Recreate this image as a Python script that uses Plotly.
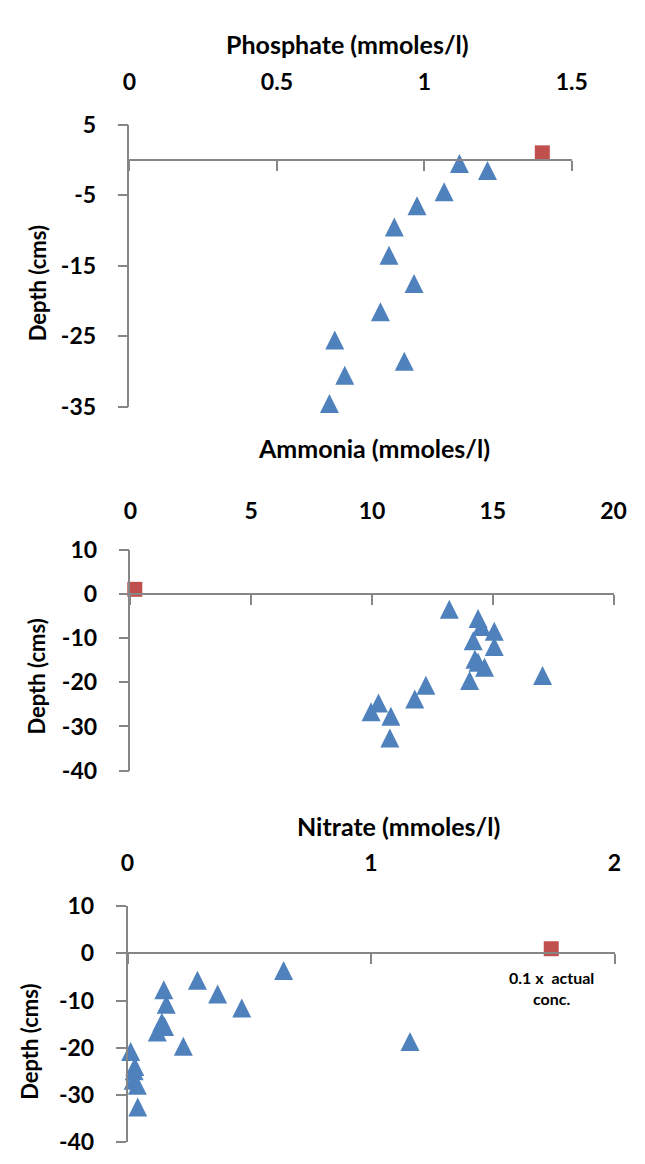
import plotly.graph_objects as go

W, H = 645, 1164

# ---------------- data ----------------
phos_conc = [1.119, 1.214, 1.067, 0.975, 0.898, 0.880, 0.965, 0.851, 0.696, 0.932, 0.730, 0.678]
phos_depth = [-0.5, -1.5, -4.5, -6.5, -9.5, -13.5, -17.5, -21.5, -25.5, -28.5, -30.5, -34.5]
phos_surface_conc = [1.40]
phos_surface_depth = [1.0]

amm_conc = [13.2, 14.39, 14.53, 15.06, 14.19, 15.06, 14.26, 14.39, 14.66, 17.06, 14.04, 12.23,
            11.77, 10.27, 9.96, 10.78, 10.74]
amm_depth = [-3.5, -5.6, -7.4, -8.5, -10.6, -11.9, -14.8, -15.5, -16.6, -18.5, -19.6, -20.7,
             -23.8, -24.7, -26.7, -27.7, -32.6]
amm_surface_conc = [0.18]
amm_surface_depth = [1.0]

nit_conc = [0.641, 0.287, 0.149, 0.370, 0.159, 0.469, 0.141, 0.152, 0.122, 1.160, 0.229, 0.013,
            0.030, 0.027, 0.023, 0.040, 0.042]
nit_depth = [-3.6, -5.7, -7.7, -8.6, -10.8, -11.6, -14.6, -15.5, -16.7, -18.7, -19.7, -20.8,
             -24.0, -24.9, -26.9, -28.0, -32.6]
nit_surface_conc = [1.74]
nit_surface_depth = [1.0]

# tick values / labels
phos_xticks = [0, 0.5, 1, 1.5]
phos_xlabels = ["0", "0.5", "1", "1.5"]
amm_xticks = [0, 5, 10, 15, 20]
amm_xlabels = ["0", "5", "10", "15", "20"]
nit_xticks = [0, 1, 2]
nit_xlabels = ["0", "1", "2"]
phos_yticks = [5, -5, -15, -25, -35]
phos_ylabels = ["5", "-5", "-15", "-25", "-35"]
deep_yticks = [10, 0, -10, -20, -30, -40]
deep_ylabels = ["10", "0", "-10", "-20", "-30", "-40"]

x_titles = ["Phosphate (mmoles/l)", "Ammonia (mmoles/l)", "Nitrate (mmoles/l)"]
y_title = "Depth (cms)"
note_text = "0.1 x  actual<br>conc."

# ---------------- styling ----------------
BLUE = "#4F81BD"
RED = "#C0504D"
GRAY = "#868686"
FONT = "Lato"

# panel geometry in pixels (left, right, top, bottom) and axis settings
panels = [
    dict(px=(127, 585.7, 112.3, 401.7), xr=[0, 1.5], xt=(phos_xticks, phos_xlabels),
         yr=[-35, 5], yt=(phos_yticks, phos_ylabels),
         lab_y=67, title_xy=(353, 30), ytitle_xy=(31, 275)),
    dict(px=(128, 629, 547.7, 774.3), xr=[0, 20], xt=(amm_xticks, amm_xlabels),
         yr=[-40, 10], yt=(deep_yticks, deep_ylabels),
         lab_y=506, title_xy=(381, 444), ytitle_xy=(31, 678)),
    dict(px=(125, 630, 913.3, 1154.6), xr=[0, 2], xt=(nit_xticks, nit_xlabels),
         yr=[-40, 10], yt=(deep_yticks, deep_ylabels),
         lab_y=867, title_xy=(406, 831), ytitle_xy=(24, 1052)),
]

def fx(p):
    return p / W

def fy(p):
    return 1 - p / H

series = [
    (phos_conc, phos_depth, phos_surface_conc, phos_surface_depth),
    (amm_conc, amm_depth, amm_surface_conc, amm_surface_depth),
    (nit_conc, nit_depth, nit_surface_conc, nit_surface_depth),
]

fig = go.Figure()
layout = {}
annotations = []

for i, (pn, (xs, ys, sx, sy)) in enumerate(zip(panels, series)):
    n = i + 1
    xa = "x" if n == 1 else f"x{n}"
    ya = "y" if n == 1 else f"y{n}"
    xo = f"x{n + 3}"
    l, r, t, b = pn["px"]
    ylo, yhi = pn["yr"]
    p0 = t + (yhi - 0) / (yhi - ylo) * (b - t)

    fig.add_trace(go.Scatter(
        x=xs, y=ys, xaxis=xa, yaxis=ya, mode="markers", showlegend=False,
        marker=dict(symbol="arrow-down", angle=180, standoff=9.5, size=19, color=BLUE,
                    line=dict(width=0)),
        cliponaxis=False,
    ))
    fig.add_trace(go.Scatter(
        x=sx, y=sy, xaxis=xo, yaxis=ya, mode="markers", showlegend=False,
        marker=dict(symbol="square", size=15, color=RED, line=dict(width=0)),
        cliponaxis=False,
    ))

    key_x = "xaxis" if n == 1 else f"xaxis{n}"
    key_y = "yaxis" if n == 1 else f"yaxis{n}"
    key_o = f"xaxis{n + 3}"

    layout[key_x] = dict(
        domain=[fx(l), fx(r)], range=pn["xr"], anchor="free", position=fy(p0),
        showline=True, linecolor=GRAY, linewidth=1.5, ticks="outside", ticklen=10,
        tickcolor=GRAY, tickwidth=1.5, tickmode="array", tickvals=pn["xt"][0],
        showticklabels=False, showgrid=False, zeroline=False, fixedrange=True,
    )
    layout[key_o] = dict(
        domain=[fx(l), fx(r)], range=pn["xr"], overlaying=xa, anchor="free",
        position=fy(pn["lab_y"] + 15), side="top", showline=False, ticks="",
        tickmode="array", tickvals=pn["xt"][0], ticktext=pn["xt"][1],
        showgrid=False, zeroline=False,
        tickfont=dict(family=FONT, size=23, color="black", weight="bold"),
        fixedrange=True,
    )
    layout[key_y] = dict(
        domain=[fy(b), fy(t)], range=pn["yr"], anchor=xa,
        showline=True, linecolor=GRAY, linewidth=1.5, ticks="outside", ticklen=10,
        tickcolor=GRAY, tickwidth=1.5, tickmode="array", tickvals=pn["yt"][0],
        ticktext=pn["yt"][1], ticklabelstandoff=17,
        tickfont=dict(family=FONT, size=23, color="black", weight="bold"),
        showgrid=False, zeroline=False, fixedrange=True,
    )

    tx, ty = pn["title_xy"]
    annotations.append(dict(
        text=x_titles[i], x=fx(tx), y=fy(ty), xref="paper", yref="paper",
        xanchor="center", yanchor="middle", showarrow=False,
        font=dict(family=FONT, size=25, color="black", weight="bold"),
    ))
    yx, yy = pn["ytitle_xy"]
    annotations.append(dict(
        text=y_title, x=fx(yx), y=fy(yy), xref="paper", yref="paper",
        xanchor="center", yanchor="middle", showarrow=False, textangle=-90,
        font=dict(family=FONT, size=22, color="black", weight="bold"),
    ))

annotations.append(dict(
    text=note_text, x=1.74, y=-7.3, xref="x3", yref="y3",
    xanchor="center", yanchor="middle", showarrow=False,
    font=dict(family=FONT, size=16, color="black", weight="bold"),
))

fig.update_layout(
    width=W, height=H,
    margin=dict(l=0, r=0, t=0, b=0),
    paper_bgcolor="white", plot_bgcolor="white",
    showlegend=False,
    annotations=annotations,
    **layout,
)

fig.write_html("out.html", config={"displayModeBar": False})
